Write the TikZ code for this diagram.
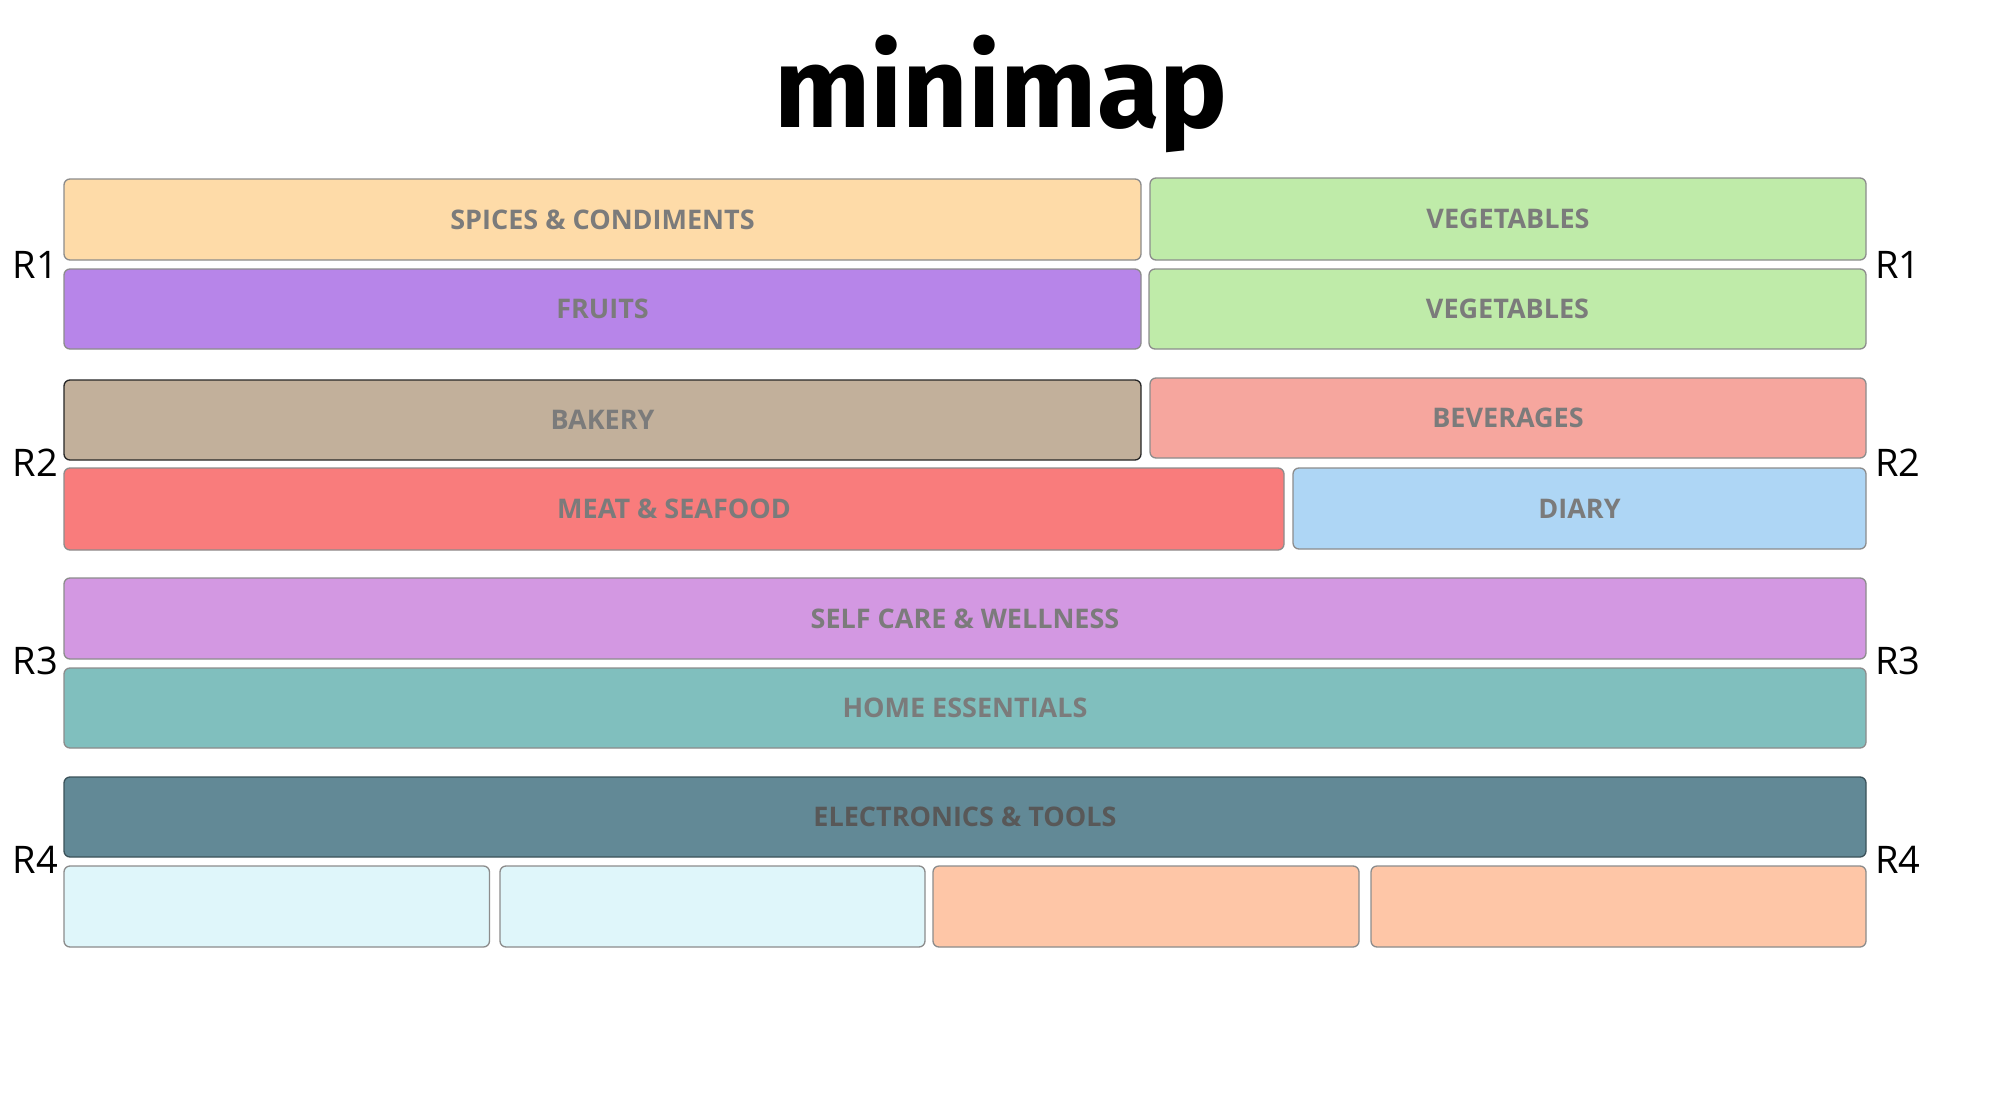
\documentclass[tikz,border=0pt]{standalone}
\usepackage{fontspec}
\setmainfont{Open Sans}
\newfontfamily\titlefont{Fira Sans}
\definecolor{cSpice}{HTML}{FEDBA8}
\definecolor{cVeg}{HTML}{BFEBA9}
\definecolor{cFruit}{HTML}{B785E9}
\definecolor{cBakery}{HTML}{C2B09B}
\definecolor{cBev}{HTML}{F6A69E}
\definecolor{cMeat}{HTML}{F97C7C}
\definecolor{cDiary}{HTML}{AED6F5}
\definecolor{cSelf}{HTML}{D398E2}
\definecolor{cHome}{HTML}{80BFBE}
\definecolor{cElec}{HTML}{628996}
\definecolor{cCyan}{HTML}{DFF6FA}
\definecolor{cPeach}{HTML}{FEC6A7}
\definecolor{cBorder}{HTML}{8C8C8C}
\definecolor{cText}{HTML}{7B7B7B}
\definecolor{cTextDark}{HTML}{585858}
\begin{document}
\begin{tikzpicture}[x=1pt,y=-1pt,
  cell/.style={draw=cBorder, line width=1.3pt, rounded corners=6pt, inner sep=0pt, outer sep=0pt,
    font=\fontsize{27}{30}\selectfont\bfseries, text=cText},
  rlabel/.style={inner sep=0pt, font=\fontsize{38}{40}\selectfont, text=black}]
\useasboundingbox[fill=white] (0,0) rectangle (2000,1100);
\node[inner sep=0pt, anchor=base, font=\titlefont\fontsize{114}{120}\selectfont\bfseries] (title) at (1001,127) {minimap};
% Row 1
\node[cell, fill=cSpice, minimum width=1077pt, minimum height=81pt] (spices) at (602.5,219.5) {SPICES \& CONDIMENTS};
\node[cell, fill=cVeg, minimum width=716pt, minimum height=82pt] (veg1) at (1508,219) {VEGETABLES};
\node[cell, fill=cFruit, minimum width=1077pt, minimum height=80pt] (fruits) at (602.5,309) {FRUITS};
\node[cell, fill=cVeg, minimum width=717pt, minimum height=80pt] (veg2) at (1507.5,309) {VEGETABLES};
% Row 2
\node[cell, draw=black!85, fill=cBakery, minimum width=1077pt, minimum height=80pt] (bakery) at (602.5,420) {BAKERY};
\node[cell, fill=cBev, minimum width=716pt, minimum height=80pt] (bev) at (1508,418) {BEVERAGES};
\node[cell, fill=cMeat, minimum width=1220pt, minimum height=82pt] (meat) at (674,509) {MEAT \& SEAFOOD};
\node[cell, fill=cDiary, minimum width=573pt, minimum height=81pt] (diary) at (1579.5,508.5) {DIARY};
% Row 3
\node[cell, fill=cSelf, minimum width=1802pt, minimum height=81pt] (self) at (965,618.5) {SELF CARE \& WELLNESS};
\node[cell, fill=cHome, minimum width=1802pt, minimum height=80pt] (home) at (965,708) {HOME ESSENTIALS};
% Row 4
\node[cell, draw=cElec!60!black, fill=cElec, text=cTextDark, minimum width=1802pt, minimum height=80pt] (elec) at (965,817) {ELECTRONICS \& TOOLS};
\node[cell, fill=cCyan, minimum width=425.5pt, minimum height=81pt] (b1) at (276.75,906.5) {};
\node[cell, fill=cCyan, minimum width=425pt, minimum height=81pt] (b2) at (712.5,906.5) {};
\node[cell, fill=cPeach, minimum width=426pt, minimum height=81pt] (b3) at (1146,906.5) {};
\node[cell, fill=cPeach, minimum width=495pt, minimum height=81pt] (b4) at (1618.5,906.5) {};
% Row labels
\node[rlabel, anchor=base east] (l1) at (58,278) {R1};
\node[rlabel, anchor=base west] (r1) at (1875,278) {R1};
\node[rlabel, anchor=base east] (l2) at (58,476) {R2};
\node[rlabel, anchor=base west] (r2) at (1875,476) {R2};
\node[rlabel, anchor=base east] (l3) at (58,674) {R3};
\node[rlabel, anchor=base west] (r3) at (1875,674) {R3};
\node[rlabel, anchor=base east] (l4) at (58,873) {R4};
\node[rlabel, anchor=base west] (r4) at (1875,873) {R4};
\end{tikzpicture}
\end{document}
